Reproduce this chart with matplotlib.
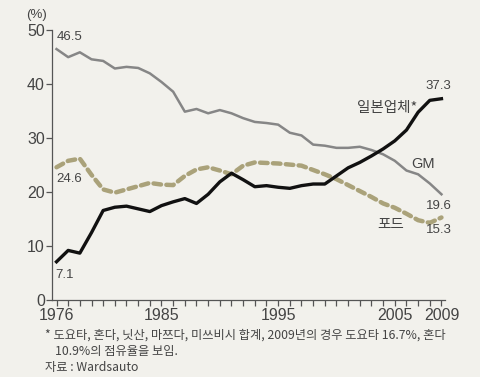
import numpy as np
import matplotlib
matplotlib.use('Agg')
import matplotlib.pyplot as plt

plt.rcParams['font.family'] = ['Noto Sans CJK KR', 'DejaVu Sans']

years = list(range(1976, 2010))
japan = [7.1, 9.2, 8.7, 12.5, 16.6, 17.2, 17.4, 16.9, 16.4, 17.5, 18.2, 18.8, 17.9, 19.6,
         21.9, 23.5, 22.3, 21.0, 21.2, 20.9, 20.7, 21.2, 21.5, 21.5, 23.0, 24.5, 25.5, 26.7,
         28.0, 29.5, 31.5, 34.8, 37.0, 37.3]
gm = [46.5, 45.0, 45.9, 44.6, 44.3, 42.9, 43.2, 43.0, 42.0, 40.4, 38.6, 34.9, 35.4, 34.6,
      35.2, 34.6, 33.7, 33.0, 32.8, 32.5, 31.0, 30.5, 28.8, 28.6, 28.2, 28.2, 28.4, 27.8,
      27.0, 25.8, 24.0, 23.3, 21.6, 19.6]
ford = [24.6, 25.8, 26.2, 23.2, 20.5, 19.9, 20.5, 21.1, 21.7, 21.4, 21.3, 23.0, 24.2, 24.6,
        24.0, 23.3, 24.9, 25.5, 25.4, 25.3, 25.1, 24.9, 24.1, 23.3, 22.4, 21.3, 20.2, 19.1,
        17.9, 17.1, 16.0, 14.8, 14.3, 15.3]
xticks = [1976, 1985, 1995, 2005, 2009]
yticks = [0, 10, 20, 30, 40, 50]

bg = '#f2f1ec'
txt = '#444444'
num_font = ['Liberation Sans', 'DejaVu Sans']

fig = plt.figure(figsize=(4.8, 3.77), dpi=100, facecolor=bg)
ax = fig.add_axes([0.108, 0.204, 0.819, 0.716], facecolor=bg)

ax.plot(years, gm, color='#868686', lw=1.8, solid_joinstyle='round')
ax.plot(years, ford, color='#aaa27a', lw=3.2, ls=(0, (1.7, 1.2)), dash_capstyle='round')
ax.plot(years, japan, color='#111111', lw=2.4, solid_joinstyle='round')

ax.set_xlim(1975.6, 2009.3)
ax.set_ylim(0, 50)
ax.set_xticks(xticks)
ax.set_xticks(years, minor=True)
ax.set_yticks(yticks)
ax.tick_params(axis='both', colors='#555555', labelcolor=txt, labelsize=11.5, length=4, width=0.9, pad=1)
ax.tick_params(axis='x', which='minor', length=4, width=0.9, colors='#555555')
ax.tick_params(axis='x', which='major', length=4, pad=1.5)
for lab in ax.get_xticklabels() + ax.get_yticklabels():
    lab.set_family(num_font)
for s in ['top', 'right']:
    ax.spines[s].set_visible(False)
for s in ['left', 'bottom']:
    ax.spines[s].set_color('#555555')
    ax.spines[s].set_linewidth(0.9)

ax.text(-0.04, 1.035, '(%)', transform=ax.transAxes, fontsize=9.5, color=txt, ha='center', va='bottom',
        family=num_font)

fs = 9.5
ax.annotate('46.5', (years[0], gm[0]), xytext=(0, 4), textcoords='offset points', fontsize=fs, color=txt,
            ha='left', va='bottom', family=num_font)
ax.annotate('24.6', (years[0], ford[0]), xytext=(0, -4), textcoords='offset points', fontsize=fs, color=txt,
            ha='left', va='top', family=num_font)
ax.annotate('7.1', (years[0], japan[0]), xytext=(-1, -5), textcoords='offset points', fontsize=fs, color=txt,
            ha='left', va='top', family=num_font)
ax.annotate('37.3', (years[-1], japan[-1]), xytext=(-2, 5), textcoords='offset points', fontsize=fs, color=txt,
            ha='center', va='bottom', family=num_font)
ax.annotate('19.6', (years[-1], gm[-1]), xytext=(-2, -4), textcoords='offset points', fontsize=fs, color=txt,
            ha='center', va='top', family=num_font)
ax.annotate('15.3', (years[-1], ford[-1]), xytext=(-2, -5), textcoords='offset points', fontsize=fs, color=txt,
            ha='center', va='top', family=num_font)
ax.annotate('일본업체*', (2004.3, 35.5), fontsize=10.5, color=txt, ha='center', va='center')
ax.annotate('GM', (2007.4, 25.2), fontsize=10.5, color=txt, ha='center', va='center', family=num_font)
ax.annotate('포드', (2004.6, 13.8), fontsize=10.5, color=txt, ha='center', va='center')

fig.text(0.094, 0.112, '* 도요타, 혼다, 닛산, 마쯔다, 미쓰비시 합계, 2009년의 경우 도요타 16.7%, 혼다',
         fontsize=8.8, color=txt, va='center')
fig.text(0.115, 0.068, '10.9%의 점유율을 보임.', fontsize=8.8, color=txt, va='center')
fig.text(0.094, 0.026, '자료 : Wardsauto', fontsize=8.8, color=txt, va='center')

fig.savefig('out.png', dpi=100, facecolor=bg)
